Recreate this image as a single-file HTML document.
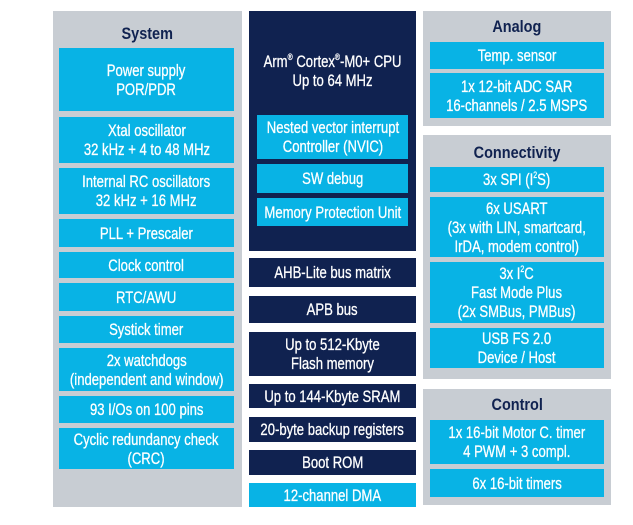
<!DOCTYPE html>
<html><head><meta charset="utf-8"><style>
body{margin:0;width:633px;height:525px;background:#fff;position:relative;overflow:hidden;font-family:"Liberation Sans",sans-serif;}
.p{position:absolute;background:#c8cdd3;}
.b{position:absolute;display:flex;align-items:center;justify-content:center;text-align:center;color:#fff;font-size:17px;line-height:19px;background:#08b3e5;}
.b>span{display:inline-block;transform:scaleX(0.77);white-space:nowrap;-webkit-text-stroke:0.3px #fff;}
.d{background:#102250;}
.t{position:absolute;text-align:center;color:#102250;font-weight:bold;font-size:17px;}
.t>span{display:inline-block;transform:scaleX(0.85);}
sup{font-size:9px;line-height:0;vertical-align:7px;}
</style></head><body>
<div class="p" style="left:53px;top:11px;width:189px;height:496px"></div>
<div class="t" style="left:53px;top:24px;width:189px"><span>System</span></div>
<div class="b" style="left:59px;top:48px;width:175px;height:63px"><span>Power supply<br>POR/PDR</span></div>
<div class="b" style="left:59px;top:117px;width:175px;height:46px"><span>Xtal oscillator<br>32 kHz + 4 to 48 MHz</span></div>
<div class="b" style="left:59px;top:168px;width:175px;height:46px"><span>Internal RC oscillators<br>32 kHz + 16 MHz</span></div>
<div class="b" style="left:59px;top:219px;width:175px;height:28px"><span>PLL + Prescaler</span></div>
<div class="b" style="left:59px;top:252px;width:175px;height:26px"><span>Clock control</span></div>
<div class="b" style="left:59px;top:283px;width:175px;height:28px"><span>RTC/AWU</span></div>
<div class="b" style="left:59px;top:316px;width:175px;height:27px"><span>Systick timer</span></div>
<div class="b" style="left:59px;top:348px;width:175px;height:43px"><span>2x watchdogs<br>(independent and window)</span></div>
<div class="b" style="left:59px;top:396px;width:175px;height:27px"><span>93 I/Os on 100 pins</span></div>
<div class="b" style="left:59px;top:428px;width:175px;height:41px"><span>Cyclic redundancy check<br>(CRC)</span></div>

<div class="b d" style="left:249px;top:11px;width:167px;height:240px;align-items:flex-start;padding-top:41px;box-sizing:border-box"><span>Arm<sup>®</sup> Cortex<sup>®</sup>-M0+ CPU<br>Up to 64 MHz</span></div>
<div class="b" style="left:257px;top:115px;width:151px;height:44px"><span>Nested vector interrupt<br>Controller (NVIC)</span></div>
<div class="b" style="left:257px;top:164px;width:151px;height:29px"><span>SW debug</span></div>
<div class="b" style="left:257px;top:198px;width:151px;height:28px"><span>Memory Protection Unit</span></div>
<div class="b d" style="left:249px;top:258px;width:167px;height:29px"><span>AHB-Lite bus matrix</span></div>
<div class="b d" style="left:249px;top:296px;width:167px;height:27px"><span>APB bus</span></div>
<div class="b d" style="left:249px;top:332px;width:167px;height:44px"><span>Up to 512-Kbyte<br>Flash memory</span></div>
<div class="b d" style="left:249px;top:384px;width:167px;height:24px"><span>Up to 144-Kbyte SRAM</span></div>
<div class="b d" style="left:249px;top:417px;width:167px;height:25px"><span>20-byte backup registers</span></div>
<div class="b d" style="left:249px;top:450px;width:167px;height:25px"><span>Boot ROM</span></div>
<div class="b" style="left:249px;top:483px;width:167px;height:24px"><span>12-channel DMA</span></div>

<div class="p" style="left:423px;top:11px;width:188px;height:115px"></div>
<div class="t" style="left:423px;top:17px;width:188px"><span>Analog</span></div>
<div class="b" style="left:430px;top:42px;width:174px;height:27px"><span>Temp. sensor</span></div>
<div class="b" style="left:430px;top:73px;width:174px;height:45px"><span>1x 12-bit ADC SAR<br>16-channels / 2.5 MSPS</span></div>

<div class="p" style="left:423px;top:135px;width:188px;height:244px"></div>
<div class="t" style="left:423px;top:143px;width:188px"><span>Connectivity</span></div>
<div class="b" style="left:430px;top:167px;width:174px;height:25px"><span>3x SPI (I<sup>2</sup>S)</span></div>
<div class="b" style="left:430px;top:197px;width:174px;height:60px"><span>6x USART<br>(3x with LIN, smartcard,<br>IrDA, modem control)</span></div>
<div class="b" style="left:430px;top:262px;width:174px;height:61px"><span>3x I<sup>2</sup>C<br>Fast Mode Plus<br>(2x SMBus, PMBus)</span></div>
<div class="b" style="left:430px;top:328px;width:174px;height:40px"><span>USB FS 2.0<br>Device / Host</span></div>

<div class="p" style="left:423px;top:389px;width:188px;height:116px"></div>
<div class="t" style="left:423px;top:395px;width:188px"><span>Control</span></div>
<div class="b" style="left:430px;top:420px;width:174px;height:44px"><span>1x 16-bit Motor C. timer<br>4 PWM + 3 compl.</span></div>
<div class="b" style="left:430px;top:469px;width:174px;height:28px"><span>6x 16-bit timers</span></div>
</body></html>
